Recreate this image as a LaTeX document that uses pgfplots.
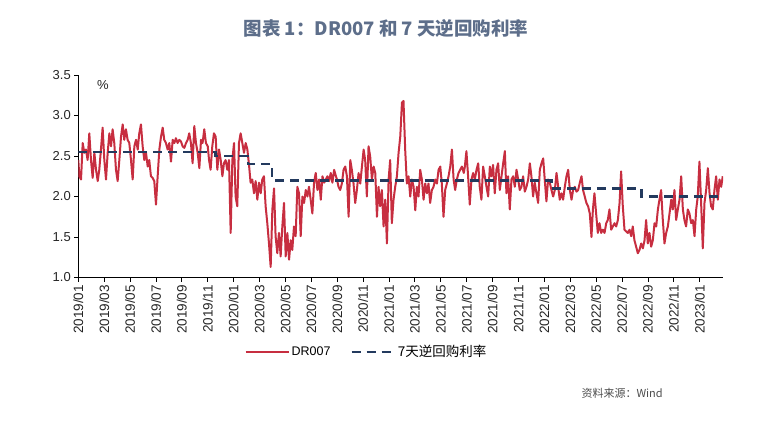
\documentclass[border=0pt]{standalone}
\usepackage{pgfplots}
\pgfplotsset{compat=1.18}
\usepackage{fontspec}
\setmainfont{Liberation Sans}
\newfontfamily\cjk{Noto Sans CJK SC}
\definecolor{drred}{HTML}{C72E40}
\definecolor{rrnavy}{HTML}{233A5E}
\definecolor{titleblue}{HTML}{5D6E8A}

\begin{document}
\begin{tikzpicture}[x=1pt,y=1pt]
\path[use as bounding box] (0,0) rectangle (779,424);
\node[font=\cjk\bfseries\fontsize{18.5}{20}\selectfont, text=titleblue] at (386,396) {图表 1：DR007 和 7 天逆回购利率};
\node[anchor=west, font=\cjk\fontsize{11}{12}\selectfont, text=black!70] at (578,31) {资料来源：Wind};

\begin{axis}[
    at={(78.3pt,146.5pt)}, anchor=south west,
    scale only axis, width=644.7pt, height=202.5pt,
    xmin=0, xmax=49.8, ymin=1, ymax=3.5,
    axis x line=bottom, axis y line=left,
    axis line style={-, line width=0.8pt, black},
    tick align=outside, major tick length=4pt,
    tick style={black, line width=0.8pt},
    /pgf/number format/assume math mode=true,
    ytick={1,1.5,...,3.5},
    yticklabel style={/pgf/number format/fixed, /pgf/number format/fixed zerofill,
        /pgf/number format/precision=1},
    yticklabel style={font=\fontsize{13}{13}\selectfont, text=black!85},
    xtick={0,2,...,48},
    xticklabels={2019/01,2019/03,2019/05,2019/07,2019/09,2019/11,
                 2020/01,2020/03,2020/05,2020/07,2020/09,2020/11,
                 2021/01,2021/03,2021/05,2021/07,2021/09,2021/11,
                 2022/01,2022/03,2022/05,2022/07,2022/09,2022/11,2023/01},
    xticklabel style={rotate=90, anchor=east, font=\fontsize{13.5}{13.5}\selectfont, text=black!85},
    legend style={at={(0.447,-0.368)}, anchor=center, draw=none, fill=none,
        legend columns=2, font=\fontsize{12.5}{13}\selectfont,
        /tikz/every even column/.append style={column sep=18pt}},
    legend image code/.code={\draw[#1] (0pt,0pt) -- (43pt,0pt);},
]

% DR007
\addplot[drred, line width=2pt, line join=round] coordinates {
(0.00,2.45)(0.08,2.25)(0.21,2.21)(0.34,2.66)(0.47,2.54)(0.59,2.58)(0.72,2.45)(0.85,2.78)
(0.98,2.45)(1.11,2.23)(1.24,2.54)(1.37,2.33)(1.50,2.19)(1.62,2.33)(1.75,2.58)(1.88,2.85)
(2.01,2.45)(2.14,2.21)(2.27,2.54)(2.40,2.78)(2.53,2.62)(2.65,2.83)(2.78,2.66)(2.91,2.33)
(3.04,2.19)(3.17,2.45)(3.30,2.74)(3.43,2.89)(3.55,2.70)(3.68,2.83)(3.81,2.70)(3.94,2.66)
(4.07,2.45)(4.20,2.21)(4.33,2.62)(4.46,2.70)(4.59,2.58)(4.71,2.78)(4.84,2.89)(4.97,2.62)
(5.10,2.45)(5.23,2.54)(5.36,2.37)(5.48,2.45)(5.61,2.25)(5.74,2.23)(5.87,2.19)(6.00,1.90)
(6.13,2.25)(6.26,2.58)(6.39,2.74)(6.52,2.85)(6.64,2.70)(6.77,2.66)(6.90,2.58)(7.03,2.66)
(7.16,2.43)(7.29,2.70)(7.42,2.66)(7.54,2.72)(7.67,2.66)(7.80,2.70)(7.93,2.68)(8.06,2.62)
(8.19,2.60)(8.32,2.66)(8.45,2.70)(8.57,2.78)(8.70,2.66)(8.83,2.41)(8.96,2.87)(9.09,2.66)
(9.22,2.54)(9.35,2.35)(9.48,2.70)(9.60,2.66)(9.73,2.83)(9.86,2.66)(10.00,2.62)
(10.10,2.45)(10.22,2.33)(10.35,2.62)(10.48,2.78)(10.61,2.74)(10.74,2.33)(10.87,2.58)(11.00,2.45)
(11.13,2.25)(11.25,2.41)(11.38,2.45)(11.51,2.33)(11.64,2.45)(11.77,1.55)(11.90,2.45)(12.03,2.66)
(12.15,2.00)(12.28,1.88)(12.41,2.66)(12.54,2.78)(12.67,2.66)(12.80,2.54)(12.93,2.66)(13.06,2.58)
(13.18,2.40)(13.31,2.17)(13.44,2.21)(13.57,2.04)(13.70,2.19)(13.83,1.96)(13.96,2.17)(14.09,2.04)
(14.21,2.21)(14.34,2.25)(14.47,1.88)(14.60,1.67)(14.73,1.42)(14.86,1.13)(14.99,1.84)(15.12,2.10)
(15.24,1.51)(15.37,1.30)(15.50,1.55)(15.63,1.26)(15.76,1.63)(15.89,1.92)(16.02,1.26)(16.15,1.55)
(16.28,1.22)(16.41,1.46)(16.53,1.34)(16.66,1.63)(16.79,1.51)(16.92,2.12)(17.05,2.04)(17.18,1.51)
(17.31,2.00)(17.44,1.92)(17.57,2.08)(17.70,2.00)(17.82,2.12)(17.95,1.96)(18.08,1.79)(18.21,2.17)
(18.34,2.29)(18.47,2.08)(18.60,2.21)(18.73,1.96)(18.86,2.25)(18.99,2.17)(19.12,2.21)(19.24,2.25)
(19.37,2.19)(19.50,2.29)(19.63,2.17)(19.76,2.33)(19.90,2.25)
(19.98,2.21)(20.10,2.12)(20.23,2.08)(20.36,2.16)(20.49,2.33)(20.62,2.37)(20.75,2.25)(20.88,1.75)
(21.01,2.45)(21.13,2.33)(21.26,2.16)(21.39,1.92)(21.52,2.08)(21.65,2.29)(21.78,2.16)(21.91,2.37)
(22.04,2.58)(22.16,2.45)(22.29,2.00)(22.42,2.62)(22.55,2.49)(22.68,2.21)(22.81,2.37)(22.94,2.29)
(23.07,1.75)(23.19,2.12)(23.32,1.88)(23.45,2.08)(23.58,1.63)(23.71,1.96)(23.84,1.42)(23.97,2.21)
(24.09,2.45)(24.22,1.67)(24.35,1.96)(24.48,2.12)(24.61,2.25)(24.74,2.54)(24.87,2.74)(25.00,3.16)
(25.12,3.18)(25.25,2.58)(25.38,2.16)(25.51,2.25)(25.64,2.00)(25.77,2.21)(25.90,2.12)(26.03,1.83)
(26.15,2.12)(26.28,2.00)(26.41,2.33)(26.54,2.21)(26.67,1.96)(26.80,2.16)(26.93,2.04)(27.05,2.16)
(27.18,1.92)(27.31,2.08)(27.44,2.12)(27.57,2.21)(27.70,2.16)(27.83,2.33)(27.96,2.37)(28.08,2.16)
(28.21,1.75)(28.34,2.08)(28.47,2.16)(28.60,2.25)(28.73,2.37)(28.86,2.58)(28.99,2.21)(29.11,2.08)
(29.24,2.21)(29.37,2.29)(29.50,2.33)(29.63,2.37)(29.78,2.29)
(29.86,2.37)(29.98,2.56)(30.11,2.25)(30.24,1.90)(30.37,2.21)(30.50,2.29)(30.63,2.21)(30.76,2.33)
(30.89,2.41)(31.01,2.12)(31.14,1.96)(31.27,2.37)(31.40,2.25)(31.53,2.12)(31.66,2.00)(31.79,2.37)
(31.92,2.25)(32.04,2.39)(32.17,2.04)(32.30,2.33)(32.43,2.41)(32.56,2.08)(32.69,2.25)(32.82,2.41)
(32.95,2.56)(33.07,2.04)(33.20,2.25)(33.33,1.84)(33.46,2.21)(33.59,2.25)(33.72,2.12)(33.85,2.33)
(33.98,2.21)(34.10,2.08)(34.23,2.12)(34.36,2.25)(34.49,2.06)(34.62,2.12)(34.75,2.21)(34.88,2.41)
(35.00,2.25)(35.13,2.00)(35.26,2.17)(35.39,2.04)(35.52,1.92)(35.65,2.33)(35.78,2.41)(35.91,2.47)
(36.03,2.21)(36.16,1.94)(36.29,2.21)(36.42,2.17)(36.55,2.08)(36.68,2.00)(36.81,2.08)(36.94,2.29)
(37.07,2.12)(37.19,1.96)(37.32,2.04)(37.45,1.96)(37.58,2.12)(37.71,2.25)(37.84,2.33)(37.97,2.08)
(38.10,1.96)(38.22,2.08)(38.35,2.12)(38.48,2.06)(38.61,2.08)(38.74,2.17)(38.87,2.25)(38.99,2.08)
(39.12,2.00)(39.25,1.92)(39.38,1.88)(39.51,1.79)(39.64,1.50)
(39.75,1.84)(39.87,2.04)(40.00,1.79)(40.13,1.55)(40.26,1.67)(40.39,1.55)(40.52,1.59)(40.65,1.55)
(40.78,1.67)(40.90,1.71)(41.03,1.84)(41.16,1.59)(41.29,1.63)(41.42,1.67)(41.55,1.63)(41.68,1.71)
(41.81,1.92)(41.93,2.31)(42.06,1.88)(42.19,1.59)(42.32,1.57)(42.45,1.55)(42.58,1.59)(42.71,1.51)
(42.83,1.63)(42.96,1.46)(43.09,1.38)(43.22,1.30)(43.35,1.34)(43.48,1.42)(43.61,1.36)(43.74,1.46)
(43.86,1.71)(43.99,1.42)(44.12,1.55)(44.25,1.38)(44.38,1.46)(44.51,1.67)(44.64,1.63)(44.77,1.84)
(44.89,1.96)(45.02,2.08)(45.15,1.71)(45.28,1.42)(45.41,1.55)(45.54,1.63)(45.67,1.79)(45.80,1.96)
(45.92,1.84)(46.05,2.08)(46.18,1.71)(46.31,1.84)(46.44,1.96)(46.57,2.25)(46.70,1.84)(46.82,1.71)
(46.95,1.63)(47.08,1.84)(47.21,1.79)(47.34,1.67)(47.47,1.71)(47.60,1.51)(47.73,1.84)(47.85,2.00)
(47.98,2.43)(48.11,1.92)(48.24,1.36)(48.37,1.92)(48.50,2.08)(48.63,2.35)(48.76,2.04)(48.88,1.88)
(49.01,1.84)(49.14,2.08)(49.27,2.25)(49.40,1.96)(49.53,2.21)(49.66,2.12)(49.78,2.25)
};
\addlegendentry{DR007}

% 7-day reverse repo rate
\addplot[rrnavy, line width=2.4pt, dash pattern=on 9pt off 6pt, const plot] coordinates {
(0,2.55) (10.6,2.50) (13.1,2.40) (14.97,2.20) (36.55,2.10) (43.5,2.00) (49.8,2.00)
};
\addlegendentry{\cjk\fontsize{13.5}{14}\selectfont 7天逆回购利率}

\node[font=\fontsize{13}{13}\selectfont, text=black!85] at (rel axis cs:0.038,0.95) {\%};
\end{axis}
\end{tikzpicture}
\end{document}
